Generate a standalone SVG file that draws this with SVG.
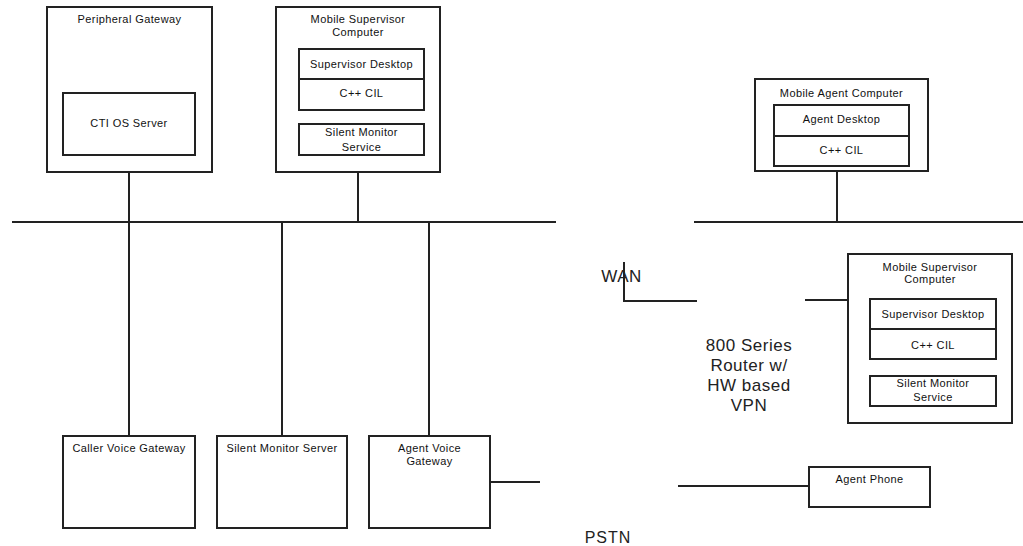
<svg xmlns="http://www.w3.org/2000/svg" width="1023" height="546" viewBox="0 0 1023 546">
<style>
.box{fill:#fff;stroke:#222;stroke-width:2}
.ln{fill:none;stroke:#222;stroke-width:2}
.t{font-family:"Liberation Sans",Arial,sans-serif;font-size:11px;letter-spacing:0.4px;fill:#111;text-anchor:middle}
.big{font-family:"Liberation Sans",Arial,sans-serif;font-size:17px;letter-spacing:0.5px;fill:#222;text-anchor:middle}
</style>
<rect width="1023" height="546" fill="#fff"/>
<g id="connectors">
<path class="ln" d="M12 222H556M694 222H1023"/>
<path class="ln" d="M129 172V436M358 172V222M282 222V436M429 222V436"/>
<path class="ln" d="M837 166V222"/>
<path class="ln" d="M624 262V301H697M805 300H848"/>
<path class="ln" d="M490 482H540M678 486H809"/>
</g>
<g id="peripheral-gateway">
<rect class="box" x="47" y="7" width="165" height="165"/>
<text class="t" x="129.5" y="23">Peripheral Gateway</text>
</g>
<g id="cti-os-server">
<rect class="box" x="63" y="93" width="132" height="62"/>
<text class="t" x="129" y="127">CTI OS Server</text>
</g>
<g id="mobile-supervisor-computer-1">
<rect class="box" x="276" y="7" width="164" height="165"/>
<text class="t" x="358" y="23">Mobile Supervisor</text>
<text class="t" x="358" y="36">Computer</text>
<rect class="box" x="299" y="49" width="125" height="61"/>
<path class="ln" d="M299 79H424"/>
<text class="t" x="361.5" y="68">Supervisor Desktop</text>
<text class="t" x="361.5" y="97">C++ CIL</text>
<rect class="box" x="299" y="124" width="125" height="31"/>
<text class="t" x="361.5" y="136">Silent Monitor</text>
<text class="t" x="361.5" y="151">Service</text>
</g>
<g id="mobile-agent-computer">
<rect class="box" x="755" y="79" width="173" height="92"/>
<text class="t" x="841.5" y="97">Mobile Agent Computer</text>
<rect class="box" x="774" y="105" width="135" height="61"/>
<path class="ln" d="M774 136H909"/>
<text class="t" x="841.5" y="123">Agent Desktop</text>
<text class="t" x="841.5" y="154">C++ CIL</text>
</g>
<g id="wan">
<text class="big" x="621.5" y="282">WAN</text>
</g>
<g id="router">
<text class="big" x="749" y="351">800 Series</text>
<text class="big" x="749" y="371">Router w/</text>
<text class="big" x="749" y="391">HW based</text>
<text class="big" x="749" y="411">VPN</text>
</g>
<g id="mobile-supervisor-computer-2">
<rect class="box" x="848" y="254" width="164" height="169"/>
<text class="t" x="930" y="271">Mobile Supervisor</text>
<text class="t" x="930" y="283">Computer</text>
<rect class="box" x="870" y="299" width="126" height="60"/>
<path class="ln" d="M870 329H996"/>
<text class="t" x="933" y="318">Supervisor Desktop</text>
<text class="t" x="933" y="349">C++ CIL</text>
<rect class="box" x="870" y="376" width="126" height="30"/>
<text class="t" x="933" y="387">Silent Monitor</text>
<text class="t" x="933" y="401">Service</text>
</g>
<g id="caller-voice-gateway">
<rect class="box" x="63" y="436" width="132" height="92"/>
<text class="t" x="129" y="452">Caller Voice Gateway</text>
</g>
<g id="silent-monitor-server">
<rect class="box" x="217" y="436" width="130" height="92"/>
<text class="t" x="282" y="452">Silent Monitor Server</text>
</g>
<g id="agent-voice-gateway">
<rect class="box" x="369" y="436" width="121" height="92"/>
<text class="t" x="429.5" y="452">Agent Voice</text>
<text class="t" x="429.5" y="465">Gateway</text>
</g>
<g id="agent-phone">
<rect class="box" x="809" y="467" width="121" height="40"/>
<text class="t" x="869.5" y="483">Agent Phone</text>
</g>
<g id="pstn">
<text class="big" x="608" y="543" style="font-size:16px;letter-spacing:1px">PSTN</text>
</g>
</svg>
